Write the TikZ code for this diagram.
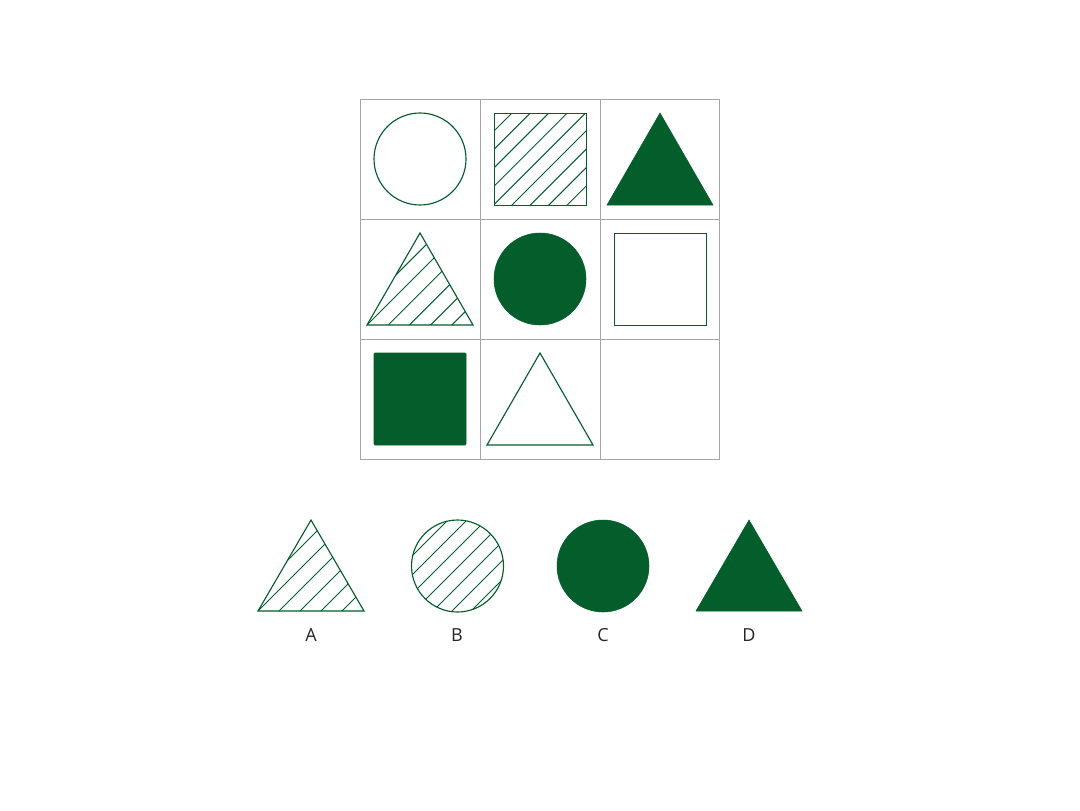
\documentclass[tikz,border=0pt]{standalone}
\usepackage{fontspec}
\setmainfont{Open Sans}
\definecolor{dg}{HTML}{035E2B}
\definecolor{gridg}{HTML}{A6A6A6}
\begin{document}
\begin{tikzpicture}[x=0.75pt,y=-0.75pt,
  outl/.style={draw=dg,line width=0.85pt},
  fil/.style={fill=dg,draw=dg,line width=0.4pt},
  hatch/.style={draw=dg,line width=0.75pt},
  gridline/.style={draw=gridg,line width=0.6pt},
  lab/.style={font=\fontsize{13.5}{16}\selectfont,text=black!85,inner sep=0pt}]
\useasboundingbox[fill=white] (0,0) rectangle (1080,810);
% grid
\draw[gridline] (360.5,99.5) rectangle (719.5,459.5);
\draw[gridline] (480.5,99.5) -- (480.5,459.5) (600.5,99.5) -- (600.5,459.5);
\draw[gridline] (360.5,219.5) -- (719.5,219.5) (360.5,339.5) -- (719.5,339.5);
% row 1
\draw[outl] (420,159) circle (46);
\begin{scope}
  \clip (494.5,113.5) rectangle (586.5,205.5);
  \foreach \k in {0,...,8}{\pgfmathsetmacro\c{625+18.4*\k}
    \draw[hatch] (\c-100,100) -- (\c-220,220);}
\end{scope}
\draw[outl] (494.5,113.5) rectangle (586.5,205.5);
\fill[fil] (660,113) -- (713,205) -- (607,205) -- cycle;
% row 2
\begin{scope}
  \clip (420,233) -- (473,325) -- (367,325) -- cycle;
  \foreach \k in {-1,...,4}{\pgfmathsetmacro\c{692+21.2*\k}
    \draw[hatch] (\c-220,220) -- (\c-340,340);}
\end{scope}
\draw[outl] (420,233) -- (473,325) -- (367,325) -- cycle;
\fill[fil] (540,279) circle (46);
\draw[outl] (614.5,233.5) rectangle (706.5,325.5);
% row 3
\fill[fil,rounded corners=0.8pt] (374,353) rectangle (466,445);
\draw[outl] (540,353) -- (593,445) -- (487,445) -- cycle;
% options
\begin{scope}
  \clip (311,520) -- (364,611) -- (258,611) -- cycle;
  \foreach \k in {-1,...,4}{\pgfmathsetmacro\c{869+21.0*\k}
    \draw[hatch] (\c-510,510) -- (\c-620,620);}
\end{scope}
\draw[outl] (311,520) -- (364,611) -- (258,611) -- cycle;
\begin{scope}
  \clip (457.5,566) circle (46);
  \foreach \k in {0,...,6}{\pgfmathsetmacro\c{968+19*\k}
    \draw[hatch] (\c-510,510) -- (\c-620,620);}
\end{scope}
\draw[outl] (457.5,566) circle (46);
\fill[fil] (603,566) circle (46);
\fill[fil] (749,520) -- (802,611) -- (696,611) -- cycle;
% labels
\node[lab] (la) at (311,635) {A};
\node[lab] (lb) at (457,635) {B};
\node[lab] (lc) at (603,635) {C};
\node[lab] (ld) at (749,635) {D};
\end{tikzpicture}
\end{document}
